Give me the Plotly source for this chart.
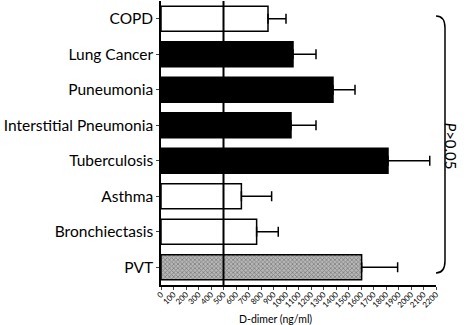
import plotly.graph_objects as go

categories = ["COPD", "Lung Cancer", "Puneumonia", "Interstitial Pneumonia",
              "Tuberculosis", "Asthma", "Bronchiectasis", "PVT"]
means = [856, 1056, 1376, 1040, 1816, 643, 765, 1605]
errors = [144, 184, 176, 200, 334, 242, 173, 288]
fills = ["white", "black", "black", "black", "black", "white", "white", "#b8b8b8"]
patterns = ["", "", "", "", "", "", "", "x"]
x_ticks = list(range(0, 2201, 100))
ref_value = 500

fig = go.Figure()
fig.add_trace(go.Bar(
    y=categories, x=means, orientation="h", width=0.7,
    marker=dict(color=fills, line=dict(color="black", width=1.5),
                pattern=dict(shape=patterns, size=3, solidity=0.45, fgcolor="#333333")),
    error_x=dict(type="data", array=errors, arrayminus=[0]*len(errors), symmetric=False,
                 color="black", thickness=1.5, width=5),
))

fig.add_shape(type="line", xref="x", yref="paper", x0=ref_value, x1=ref_value, y0=0, y1=1,
              line=dict(color="black", width=2), layer="above")

# brace
fig.add_shape(type="path", xref="paper", yref="paper",
              path="M 1.0,0.947 Q 1.0327,0.947 1.0327,0.905 L 1.0327,0.085 Q 1.0327,0.042 1.0,0.042",
              line=dict(color="black", width=1.5))
fig.add_annotation(xref="paper", yref="paper", x=1.095, y=0.49, text="<i>P</i>>0.05",
                   textangle=90, showarrow=False, font=dict(family="Lato", size=15, color="black"))
fig.add_annotation(xref="paper", yref="paper", x=0.415, y=0, yshift=-26, yanchor="top",
                   text="D-dimer (ng/ml)", showarrow=False,
                   font=dict(family="Lato", size=10.5, color="black"))

fig.update_layout(
    width=472, height=325, margin=dict(l=161, r=36, t=1, b=40),
    plot_bgcolor="white", paper_bgcolor="white", showlegend=False,
    font=dict(family="Lato", color="black"),
    xaxis=dict(range=[0, 2200], tickvals=x_ticks, ticktext=[str(v) for v in x_ticks],
               tickangle=-45, tickfont=dict(size=8, family="Lato"), ticks="outside", ticklen=3,
               ticklabelstandoff=-3,
               showline=True, linecolor="black", linewidth=1.5, showgrid=False, zeroline=False,
               automargin=False),
    yaxis=dict(range=[7.5, -0.5], autorange=False, tickfont=dict(size=15.5, family="Lato"),
               ticks="outside", ticklen=3, showline=True, linecolor="black", linewidth=1.5,
               showgrid=False, zeroline=False, automargin=False),
)

fig.write_html("out.html", config={"displayModeBar": False},
               post_script="document.body.style.margin='0';")
